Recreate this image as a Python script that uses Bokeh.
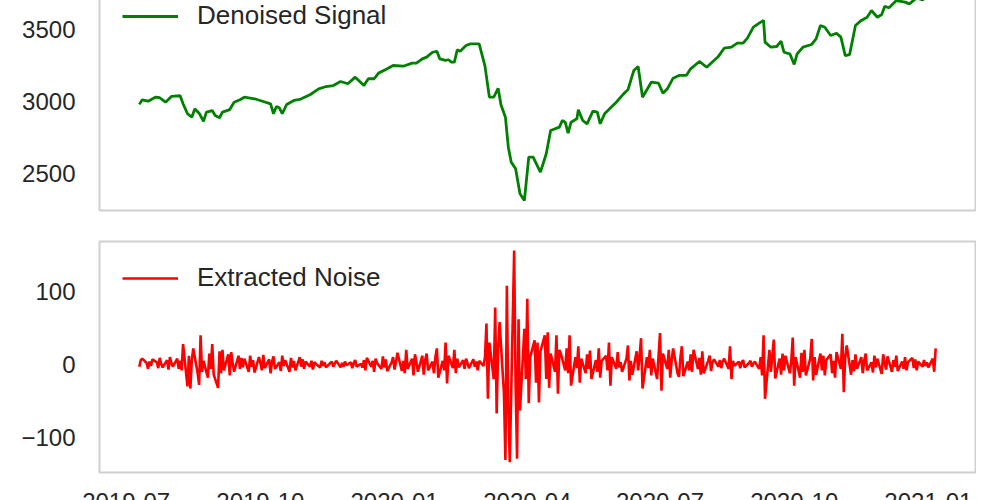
import pandas as pd
from bokeh.plotting import figure
from bokeh.layouts import column
from bokeh.models import Range1d, FixedTicker, DatetimeTickFormatter
from bokeh.embed import file_html
from bokeh.resources import INLINE

# ---------------- data ----------------
signal_dates = [
    "2019-07-10", "2019-07-12", "2019-07-16", "2019-07-21", "2019-07-24", "2019-07-28",
    "2019-08-01", "2019-08-07", "2019-08-09", "2019-08-12", "2019-08-15", "2019-08-17",
    "2019-08-20", "2019-08-23", "2019-08-25", "2019-08-29", "2019-08-31", "2019-09-03",
    "2019-09-05", "2019-09-10", "2019-09-13", "2019-09-17", "2019-09-20", "2019-09-27",
    "2019-10-03", "2019-10-08", "2019-10-10", "2019-10-12", "2019-10-14", "2019-10-16",
    "2019-10-19", "2019-10-24", "2019-10-28", "2019-11-04", "2019-11-10", "2019-11-15",
    "2019-11-20", "2019-11-25", "2019-11-30", "2019-12-05", "2019-12-11", "2019-12-14",
    "2019-12-18", "2019-12-21", "2019-12-27", "2019-12-31", "2020-01-07", "2020-01-13",
    "2020-01-16", "2020-01-20", "2020-01-23", "2020-01-27", "2020-01-30", "2020-02-01",
    "2020-02-05", "2020-02-07", "2020-02-09", "2020-02-11", "2020-02-13", "2020-02-15",
    "2020-02-19", "2020-02-22", "2020-02-28", "2020-03-03", "2020-03-06", "2020-03-09",
    "2020-03-12", "2020-03-14", "2020-03-17", "2020-03-19", "2020-03-21", "2020-03-24",
    "2020-03-27", "2020-03-30", "2020-04-02", "2020-04-05", "2020-04-10", "2020-04-14",
    "2020-04-17", "2020-04-23", "2020-04-25", "2020-04-27", "2020-04-29", "2020-05-01",
    "2020-05-05", "2020-05-06", "2020-05-09", "2020-05-12", "2020-05-16", "2020-05-19",
    "2020-05-21", "2020-05-24", "2020-05-29", "2020-06-01", "2020-06-06", "2020-06-09",
    "2020-06-13", "2020-06-16", "2020-06-19", "2020-06-25", "2020-06-30", "2020-07-03",
    "2020-07-06", "2020-07-10", "2020-07-14", "2020-07-19", "2020-07-22", "2020-07-28",
    "2020-08-02", "2020-08-07", "2020-08-10", "2020-08-14", "2020-08-19", "2020-08-23",
    "2020-08-27", "2020-08-30", "2020-09-03", "2020-09-07", "2020-09-10", "2020-09-11",
    "2020-09-15", "2020-09-19", "2020-09-22", "2020-09-24", "2020-09-28", "2020-10-01",
    "2020-10-03", "2020-10-07", "2020-10-13", "2020-10-16", "2020-10-19", "2020-10-22",
    "2020-10-26", "2020-10-30", "2020-11-02", "2020-11-05", "2020-11-08", "2020-11-12",
    "2020-11-16", "2020-11-20", "2020-11-23", "2020-11-27", "2020-11-30", "2020-12-02",
    "2020-12-05", "2020-12-10", "2020-12-16", "2020-12-19", "2020-12-24", "2020-12-28",
    "2021-01-02", "2021-01-06",
]
signal_values = [
    2980, 3012, 3002, 3030, 3026, 2995,
    3035, 3040, 2984, 2915, 2891, 2949,
    2919, 2863, 2926, 2937, 2903, 2887,
    2926, 2944, 2995, 3012, 3030, 3019,
    3000, 2984, 2915, 2965, 2956, 2915,
    2979, 3007, 3014, 3047, 3088, 3104,
    3111, 3139, 3123, 3169, 3111, 3158,
    3158, 3197, 3227, 3250, 3245, 3266,
    3266, 3296, 3308, 3342, 3349, 3296,
    3285, 3290, 3273, 3273, 3359, 3349,
    3389, 3400, 3400, 3245, 3030, 3030,
    3092, 2975, 2891, 2683, 2578, 2533,
    2359, 2312, 2613, 2613, 2509, 2637,
    2799, 2822, 2868, 2856, 2780, 2856,
    2880, 2942, 2868, 2845, 2933, 2926,
    2845, 2915, 2965, 2995, 3053, 3081,
    3215, 3243, 3030, 3134, 3127, 3058,
    3088, 3162, 3181, 3181, 3227, 3278,
    3238, 3285, 3313, 3370, 3377, 3405,
    3405, 3442, 3516, 3544, 3563, 3412,
    3377, 3382, 3419, 3342, 3331, 3257,
    3331, 3377, 3396, 3435, 3528, 3516,
    3458, 3474, 3447, 3319, 3326, 3528,
    3563, 3585, 3632, 3585, 3604, 3660,
    3651, 3701, 3690, 3678, 3720, 3705,
    3760, 3790,
]

# noise: one value per business day starting at noise_start
noise_start = "2019-07-10"
noise_values = [
    -3, 6, 8, 2, -6, 4, -2, 7, 3, -5, 9, 1, -4, 6, -7, 10, 2, -3, 8, -6, 5,
    -8, 28, -30, 12, -33, 6, 22, -12, -28, 40, -10, 5, -18, 15, -6, 28, -14, -32, 18,
    -12, 20, -8, 14, -15, 17, 2, -10, 12, -6, 9, -4,
    8, -10, 12, -3, 6, -11, 10, 2, -8, 13, -5, 7, -12, 4, 11, -6, 3, -9, 12, -2, 6, -10, 9, -4, 5, -8, 10, -3,
    7, -6, 4, -3, 5, -7, 3, 1, -4, 5, -2, 3, -4, 2, 4, -3, 1, 5, -4, 2, -3, 4, -1, 3, -5, 2, 6, -3, 1, -4,
    6, -8, 9, -3, 5, -10, 8, 2, -6, 11, -4, 7, -9, 3, 10, -7, 4, 16,
    -9, 5, -12, 20, -6, 8, -15, 14, 3, -10, 12, -14, 6, 15, -8, 4, -12, 10,
    22, -18, 5, -8, 30, -26, 12, -5, 20, -12, 8, -4, 6,
    -6, 8, 2, -5, 7, -3, 4, -8, 5, -2,
    10, 56, -47, 30, -20, 78, -67, 20, 58, -40, -131, 108, -60, -134, 156, -30, -129, 62, -63,
    49, -20, 90, -53, 10, 33, -25, 30, -52, 18, 40, -20, 44, -32, 15, -10, 40, -40, 20,
    15, -8, 22, -12, 40, -29, 10, -5, 25, -25, 8, -12, 14, -6, 19, -20, 6, -10, 22, -18,
    5, 12, -8, 30, -29, 10, -6, 17, -4, 3,
    -10, 8, 26, -22, 5, -14, 18, -8, 12, 36, -33, 10, -5, 20, -15, 8, -20, 12, 43, -36, 15, -6,
    20, -18, 6, 22, -12, -17, 10, 25, -16, 4, -8, 14, -10, 20, -6, 9, -14, 18, -12, 5, 12, -9, 3, 7,
    -3, 6, -5, 4, 8, -6, 25, -20, 5, -2, 4, -5, 3, 6, -4, 2, 5, -3, 1, 4, -6,
    10, -15, 40, -47, 20, -10, 12, 34, -19, 8, -14, 15, -8, 12, -12, 5, 37, -29, 10, -18,
    16, -10, 20, -15, 8, 35, -22,
    10, -14, 15, -8, 12, -15, 6, 14, -12, 5, -18, 17, -6, 42, -38, 10, 26, -14, 6,
    -9, 14, -6, 10, -12, 5, 15, -8, 3, -11, 12, -4, 8, -13, 14, 2, -7, 11, -10, 6,
    -3, 12, -9, 4, -6, 10, -8, 3, 9, -5, 7, -8, 4, -3, 6, -2, 3, -4, 8, -10, 22,
]

xtick_labels = ["2019-07", "2019-10", "2020-01", "2020-04", "2020-07", "2020-10", "2021-01"]
signal_yticks = [2500, 3000, 3500]
noise_yticks = [-100, 0, 100]
signal_label = "Denoised Signal"
noise_label = "Extracted Noise"

# ---------------- build ----------------
sig_x = pd.to_datetime(signal_dates)
noise_x = pd.bdate_range(start=noise_start, periods=len(noise_values))

first = min(sig_x[0], noise_x[0])
last = max(sig_x[-1], noise_x[-1])
span = last - first
x_start = first - span * 0.05
x_end = last + span * 0.05

tick_ms = [pd.Timestamp(s + "-01").value / 1e6 for s in xtick_labels]

FONT = "Liberation Sans"
TXT = "#262626"
EDGE = "#d0d0d0"


def style(p):
    p.outline_line_color = EDGE
    p.outline_line_width = 2
    p.xgrid.visible = False
    p.ygrid.visible = False
    p.background_fill_color = "white"
    p.border_fill_color = "white"
    for ax in p.yaxis:
        ax.axis_line_color = None
        ax.major_tick_line_color = None
        ax.minor_tick_line_color = None
        ax.major_tick_out = 0
        ax.major_tick_in = 0
        ax.major_label_standoff = 24
        ax.major_label_text_font = FONT
        ax.major_label_text_font_size = "24px"
        ax.major_label_text_color = TXT


p1 = figure(width=968, height=250, output_backend="svg", toolbar_location=None,
            x_axis_type="datetime", x_axis_location=None,
            x_range=Range1d(x_start, x_end), y_range=Range1d(2243, 3875),
            min_border_left=91, min_border_right=1, min_border_top=0, min_border_bottom=15)
p1.line(sig_x, signal_values, line_color="#008000", line_width=2.8, legend_label=signal_label)
style(p1)
p1.yaxis.ticker = FixedTicker(ticks=signal_yticks)

p2 = figure(width=968, height=299, output_backend="svg", toolbar_location=None,
            x_axis_type="datetime",
            x_range=p1.x_range, y_range=Range1d(-148, 168.5),
            min_border_left=91, min_border_right=1, min_border_top=16, min_border_bottom=52)
p2.line(noise_x, noise_values, line_color="#ff0000", line_width=2.6, legend_label=noise_label)
style(p2)
p2.yaxis.ticker = FixedTicker(ticks=noise_yticks)
p2.yaxis.major_label_overrides = {t: (str(t).replace("-", "\u2212")) for t in noise_yticks}

xa = p2.xaxis[0]
xa.ticker = FixedTicker(ticks=tick_ms)
xa.formatter = DatetimeTickFormatter(days="%Y-%m", months="%Y-%m", years="%Y-%m")
xa.axis_line_color = None
xa.major_tick_line_color = None
xa.minor_tick_line_color = None
xa.major_tick_out = 0
xa.major_tick_in = 0
xa.major_label_standoff = 20
xa.major_label_text_font = FONT
xa.major_label_text_font_size = "24px"
xa.major_label_text_color = TXT

for p in (p1, p2):
    lg = p.legend[0]
    lg.location = (23, 179)
    lg.margin = 0
    lg.padding = 0
    lg.border_line_color = None
    lg.background_fill_alpha = 0
    lg.glyph_width = 56
    lg.glyph_height = 20
    lg.label_standoff = 19
    lg.label_text_font = FONT
    lg.label_text_font_size = "26px"
    lg.label_text_color = TXT

layout = column(p1, p2, spacing=0,
                styles={"position": "absolute", "top": "-25px", "left": "8px",
                        "height": "525px", "overflow": "hidden"})

open("out.html", "w").write(file_html(layout, INLINE))
